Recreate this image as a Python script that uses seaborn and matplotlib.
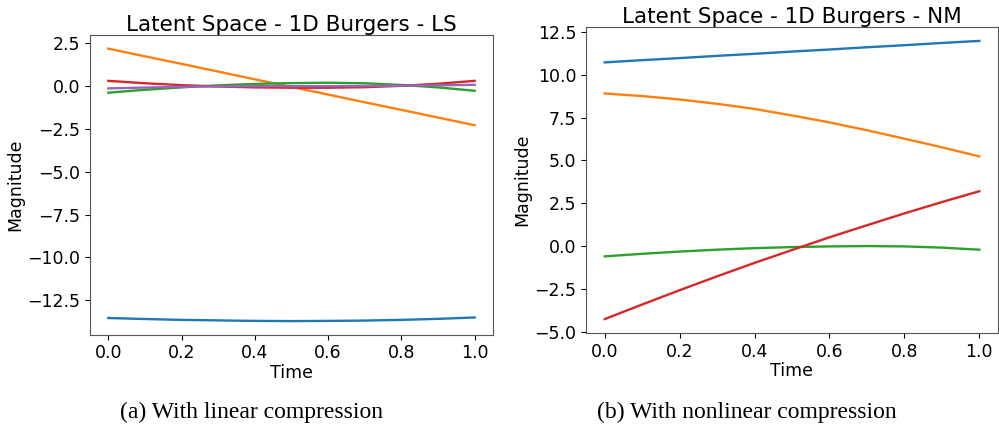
import numpy as np
import pandas as pd
import matplotlib
matplotlib.use("Agg")
import matplotlib.pyplot as plt
import seaborn as sns

# time samples shared by all latent components
time = [0.0, 0.1, 0.2, 0.3, 0.4, 0.5, 0.6, 0.7, 0.8, 0.9, 1.0]

# (a) linear compression (LS), five latent components
ls_z1 = [-13.53, -13.59, -13.64, -13.67, -13.70, -13.71, -13.70, -13.68, -13.64, -13.58, -13.50]
ls_z2 = [2.18, 1.73, 1.29, 0.84, 0.39, -0.05, -0.50, -0.95, -1.39, -1.84, -2.29]
ls_z3 = [-0.39, -0.22, -0.08, 0.04, 0.12, 0.17, 0.19, 0.16, 0.06, -0.08, -0.28]
ls_z4 = [0.30, 0.16, 0.05, -0.03, -0.08, -0.10, -0.10, -0.07, 0.01, 0.13, 0.30]
ls_z5 = [-0.14, -0.09, -0.05, -0.02, -0.01, -0.01, -0.01, 0.00, 0.02, 0.04, 0.07]

# (b) nonlinear compression (NM), four latent components
nm_z1 = [10.71, 10.84, 10.96, 11.09, 11.21, 11.34, 11.46, 11.59, 11.71, 11.84, 11.96]
nm_z2 = [8.90, 8.75, 8.55, 8.30, 8.00, 7.62, 7.22, 6.76, 6.27, 5.77, 5.24]
nm_z3 = [-0.58, -0.43, -0.30, -0.19, -0.10, -0.04, 0.00, 0.02, 0.00, -0.07, -0.19]
nm_z4 = [-4.23, -3.38, -2.55, -1.74, -0.96, -0.21, 0.53, 1.23, 1.92, 2.58, 3.21]

ls_titles = "Latent Space - 1D Burgers - LS"
nm_titles = "Latent Space - 1D Burgers - NM"


def to_long(series):
    rows = []
    for k, vals in enumerate(series):
        for t, v in zip(time, vals):
            rows.append({"Time": t, "Magnitude": v, "z": f"z{k + 1}"})
    return pd.DataFrame(rows)


df_ls = to_long([ls_z1, ls_z2, ls_z3, ls_z4, ls_z5])
df_nm = to_long([nm_z1, nm_z2, nm_z3, nm_z4])

plt.rcParams["font.family"] = ["DejaVu Sans"]
plt.rcParams["xtick.labelsize"] = 12.5
plt.rcParams["ytick.labelsize"] = 12.5

fig = plt.figure(figsize=(9.99, 4.36), dpi=100)
ax1 = fig.add_axes([90 / 999, 1 - 334.7 / 436, 403 / 999, 299.7 / 436])
ax2 = fig.add_axes([586 / 999, 1 - 333 / 436, 412 / 999, 306 / 436])

pal = sns.color_palette("tab10")
sns.lineplot(data=df_ls, x="Time", y="Magnitude", hue="z", palette=pal[:5],
             ax=ax1, legend=False, linewidth=1.7)
sns.lineplot(data=df_nm, x="Time", y="Magnitude", hue="z", palette=pal[:4],
             ax=ax2, legend=False, linewidth=1.7)

for ax, title in [(ax1, ls_titles), (ax2, nm_titles)]:
    ax.set_title(title, fontsize=15.5, pad=3)
    ax.set_xlabel("Time", fontsize=12.5, labelpad=1)
    ax.set_ylabel("Magnitude", fontsize=12.5, labelpad=2)
    ax.set_xticks([0.0, 0.2, 0.4, 0.6, 0.8, 1.0])
    for s in ax.spines.values():
        s.set_color("#555555")

ax1.set_yticks([2.5, 0.0, -2.5, -5.0, -7.5, -10.0, -12.5])
ax2.set_yticks([12.5, 10.0, 7.5, 5.0, 2.5, 0.0, -2.5, -5.0])

fig.text(251 / 999, 1 - 412 / 436, "(a) With linear compression",
         family="Liberation Serif", fontsize=17, ha="center", va="center")
fig.text(747 / 999, 1 - 412 / 436, "(b) With nonlinear compression",
         family="Liberation Serif", fontsize=17, ha="center", va="center")

fig.savefig("out.png", dpi=100)
